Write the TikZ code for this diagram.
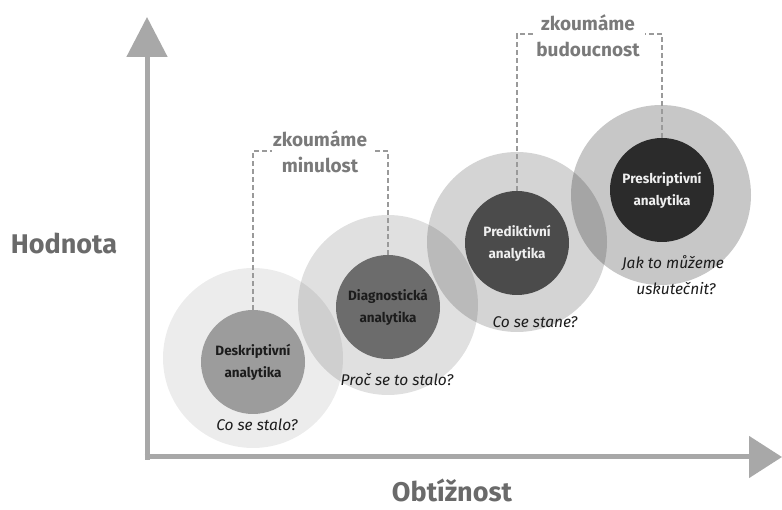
\documentclass[tikz,border=0pt]{standalone}
\usepackage{fontspec}
\setmainfont{Fira Sans}
\usetikzlibrary{arrows.meta}
\definecolor{axisgray}{HTML}{A8A8A8}
\definecolor{labelgray}{HTML}{6A6A6A}
\definecolor{bracketgray}{HTML}{9A9A9A}
\definecolor{toptext}{HTML}{7A7A7A}
\definecolor{innerA}{HTML}{9C9C9C}
\definecolor{innerB}{HTML}{6C6C6C}
\definecolor{innerC}{HTML}{4B4B4B}
\definecolor{innerD}{HTML}{2B2B2B}
\definecolor{darktext}{HTML}{1C1C1C}
\definecolor{lighttext}{HTML}{EEEEEE}
\tikzset{
  axis/.style={draw=axisgray, line width=5pt},
  halo/.style={circle, fill=black, inner sep=0pt, minimum size=180pt},
  core/.style={circle, inner sep=0pt, minimum size=104pt, align=center,
    font=\fontsize{13.5}{22}\selectfont\bfseries},
  question/.style={font=\fontsize{15.5}{26}\selectfont\itshape, text=darktext, align=center},
  bracket/.style={draw=bracketgray, line width=1.8pt, dash pattern=on 5pt off 3pt},
  bracketlabel/.style={font=\fontsize{19}{26}\selectfont\bfseries, text=toptext, align=center},
  axislabel/.style={font=\fontsize{27}{30}\selectfont\bfseries, text=labelgray,
    anchor=base, inner sep=0pt}
}
\begin{document}
\begin{tikzpicture}[x=1pt,y=-1pt]
\useasboundingbox[fill=white] (0,0) rectangle (782,510);

% translucent halos, each one a little darker than the last
\node[halo, fill opacity=0.075] (h1) at (253,358) {};
\node[halo, fill opacity=0.12]  (h2) at (388,305) {};
\node[halo, fill opacity=0.17]  (h3) at (517,242) {};
\node[halo, fill opacity=0.22]  (h4) at (661,195) {};

% the four kinds of analytics
\node[core, fill=innerA, text=darktext]  (desk) at (253,362) {Deskriptivní\\analytika};
\node[core, fill=innerB, text=darktext]  (diag) at (388,307) {Diagnostická\\analytika};
\node[core, fill=innerC, text=lighttext] (pred) at (517,243) {Prediktivní\\analytika};
\node[core, fill=innerD, text=lighttext] (pres) at (662,190) {Preskriptivní\\analytika};

% questions under each circle
\node[question] (q1) at (257,425) {Co se stalo?};
\node[question] (q2) at (397,380) {Proč se to stalo?};
\node[question] (q3) at (535,322) {Co se stane?};
\node[question] (q4) at (673,275) {Jak to můžeme\\\hspace*{6pt}uskutečnit?};

% brackets over past and future
\node[bracketlabel] (past) at (320,152) {zkoumáme\\minulost};
\coordinate (pastL) at (272,151);
\coordinate (pastR) at (373,151);
\draw[bracket] (desk.north) |- (pastL);
\draw[bracket] (diag.north) |- (pastR);

\node[bracketlabel] (future) at (588,36) {zkoumáme\\budoucnost};
\coordinate (futL) at (533,34);
\coordinate (futR) at (645,34);
\draw[bracket] (pred.north) |- (futL);
\draw[bracket] (pres.north) |- (futR);

% axes
\coordinate (origin) at (147,457);
\coordinate (ytop) at (147,17);
\coordinate (xend) at (782,457);
\draw[axis, -{Triangle[width=40pt,length=40pt]}] ([yshift=-2.5pt]origin) -- (ytop);
\draw[axis, -{Triangle[width=41pt,length=33pt]}] ([xshift=-2.5pt]origin) -- (xend);

\node[axislabel] (value) at (64,254) {Hodnota};
\node[axislabel] (effort) at (452,501) {Obtížnost};
\end{tikzpicture}
\end{document}
